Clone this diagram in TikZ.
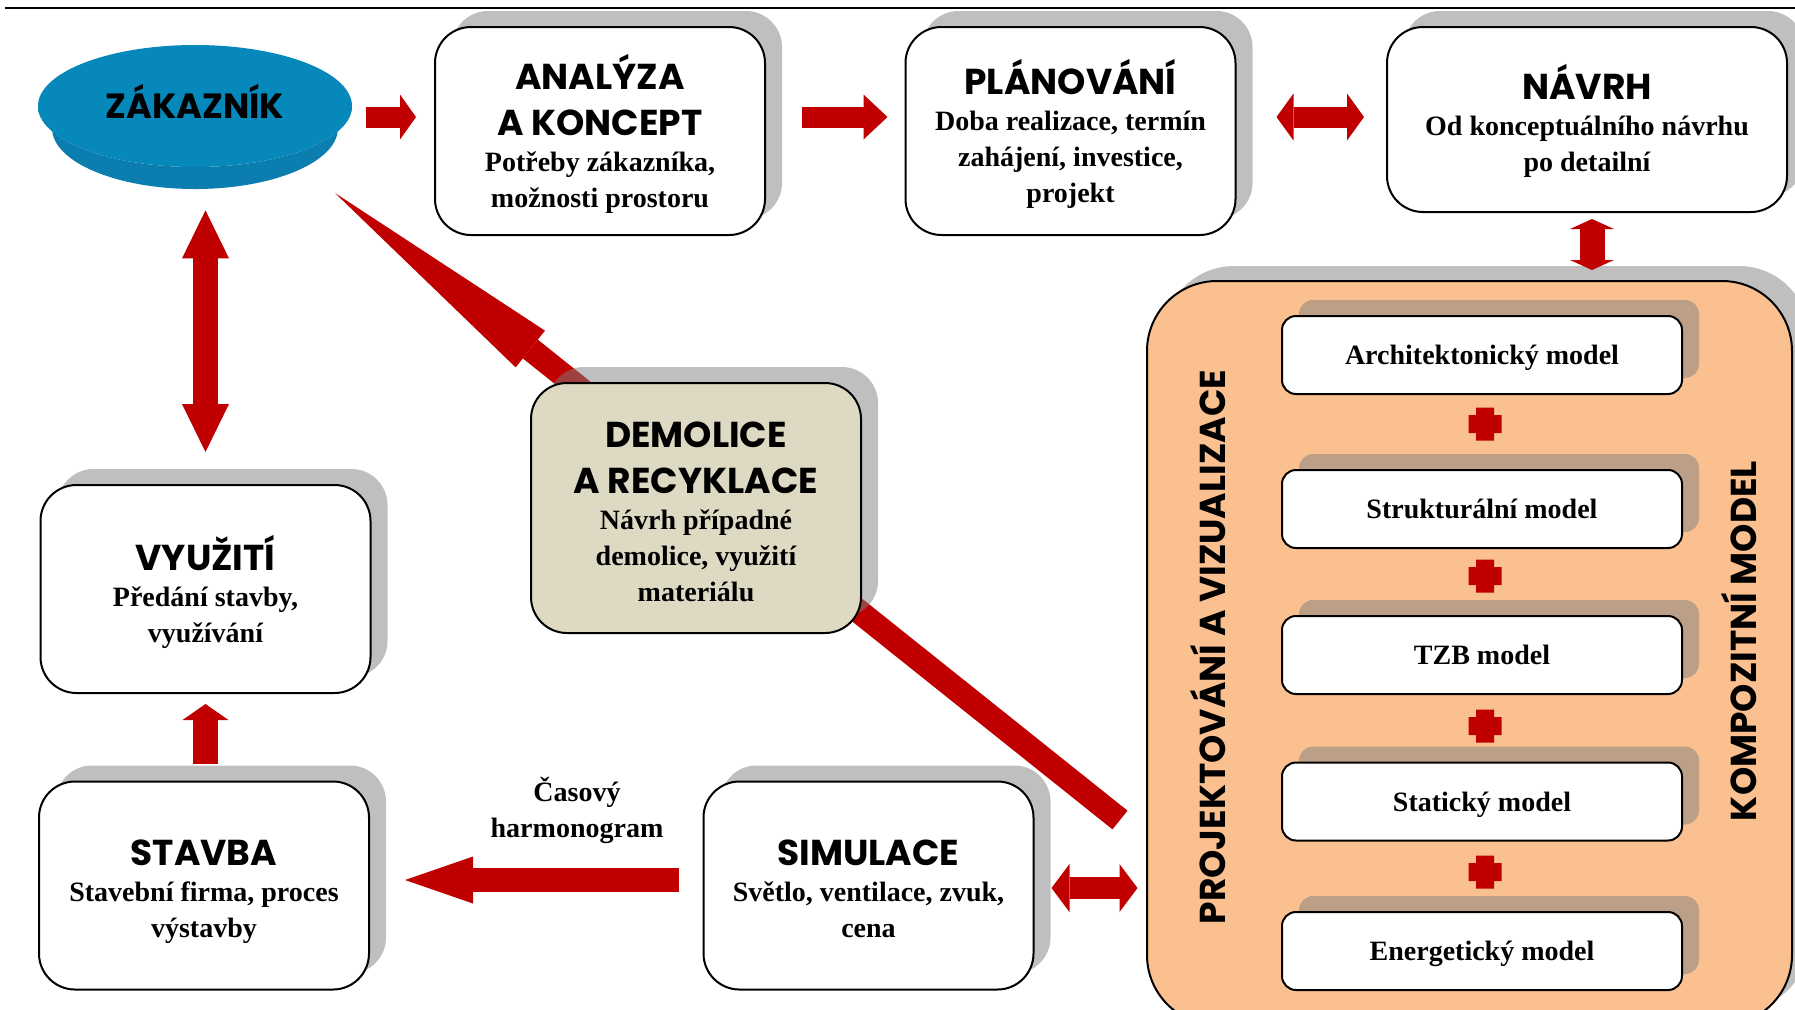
\documentclass[tikz,border=0pt]{standalone}
\usepackage{fontspec}
\setmainfont{Liberation Serif}
\newfontfamily\poppins{Poppins}
\usetikzlibrary{arrows.meta}
\usetikzlibrary{positioning}
\usetikzlibrary{shapes.geometric}
\usetikzlibrary{shadows}

\definecolor{arrowred}{HTML}{C00000}
\definecolor{diskblue}{HTML}{0788BB}
\definecolor{diskside}{HTML}{045F86}
\definecolor{diskedge}{HTML}{0B7DAE}
\definecolor{panelorange}{HTML}{FAC090}
\definecolor{demolbeige}{HTML}{DDD9C3}

\newcommand{\headfont}{\poppins\bfseries\fontsize{18}{23}\selectfont}
\newcommand{\bodyfont}{\rmfamily\bfseries\fontsize{14}{18}\selectfont}

\begin{document}
\begin{tikzpicture}[
        x=0.5pt,y=-0.5pt,
        arrow/.style={arrowred,line width=12pt},
        stage/.style={draw=black,line width=1pt,fill=white,rounded corners=18pt,
            align=center,inner sep=0pt,minimum width=165pt,minimum height=104pt,
            font=\bodyfont,text depth=0pt,
            drop shadow={shadow xshift=8.5pt,shadow yshift=8pt}},
        model/.style={stage,rounded corners=7pt,minimum width=200pt,
            minimum height=39pt},
        panel/.style={draw=black,line width=1pt,fill=panelorange,
            rounded corners=35pt,minimum width=322.5pt,minimum height=372pt,
            drop shadow={shadow xshift=8.5pt,shadow yshift=7.5pt}},
        vertical/.style={rotate=90,font=\poppins\bfseries\fontsize{18}{20}\selectfont},
    ]
        \useasboundingbox (0,0) rectangle (1795,1009);
        \clip (0,0) rectangle (1795,1009);

        % top rule
        \draw[line width=1.25pt] (5,8) -- (1795,8);

        % long arrow back to the customer
        \coordinate (demtail) at (1120,820);
        \coordinate (zaktip)  at (335,193);
        \draw[arrow,-{Triangle[width=23.5pt,length=125pt,line width=0pt]}]
            (demtail) -- (zaktip);

        % customer
        \shade[left color=diskedge,middle color=diskside,right color=diskedge]
            (38,106) -- (52,128)
            arc[start angle=180,end angle=360,x radius=71.5pt,y radius=30.5pt]
            -- (352,106)
            arc[start angle=0,end angle=-180,x radius=78.5pt,y radius=30.5pt]
            -- cycle;
        \node (zak) at (195,106) [ellipse,fill=diskblue,inner sep=0pt,
            minimum width=157pt,minimum height=61pt,text depth=5pt,
            font=\poppins\bfseries\fontsize{17.5}{20}\selectfont] {ZÁKAZNÍK};

        % top row
        \node (ana) at (600,131) [stage]
            {\headfont ANALÝZA\\[5pt]\headfont A KONCEPT\\
             Potřeby zákazníka,\\možnosti prostoru};
        \node (plan) at (1070.5,131) [stage]
            {\headfont PLÁNOVÁNÍ\\
             Doba realizace, termín\\zahájení, investice,\\projekt};
        \node (navrh) at (1587,119.5) [stage,minimum width=200pt,
            minimum height=92.5pt,text depth=1.3pt]
            {\headfont NÁVRH\\
             Od konceptuálního návrhu\\po detailní};

        % demolition
        \node (demol) at (696,508) [stage,fill=demolbeige,minimum height=125pt]
            {\headfont\rule{0pt}{16pt}DEMOLICE\\[5pt]\headfont A RECYKLACE\\
             Návrh případné\\demolice, využití\\materiálu};

        % left column
        \node (vyuz) at (205.5,589) [stage]
            {\headfont VYUŽITÍ\\
             Předání stavby,\\využívání};
        \node (stavba) at (204,885.5) [stage]
            {\headfont\rule{0pt}{16pt}STAVBA\\
             Stavební firma, proces\\výstavby};
        \node (sim) at (868.5,885.5) [stage]
            {\headfont\rule{0pt}{16pt}SIMULACE\\
             Světlo, ventilace, zvuk,\\cena};

        % composite model panel
        \node (panel) at (1469.5,653) [panel] {};
        \node (projlabel) at (1208,647) [vertical] {PROJEKTOVÁNÍ A VIZUALIZACE};
        \node (komplabel) at (1739,641) [vertical] {KOMPOZITNÍ MODEL};

        \node (arch)   at (1482,355)   [model] {Architektonický model};
        \node (strukt) at (1482,509)   [model] {Strukturální model};
        \node (tzb)    at (1482,655)   [model] {TZB model};
        \node (stat)   at (1482,801.5) [model] {Statický model};
        \node (energ)  at (1482,951)   [model] {Energetický model};

        \fill[arrowred] (1468.5,415) rectangle (1501.5,433)
            (1476,407.5) rectangle (1494,440.5);
        \fill[arrowred] (1468.5,567) rectangle (1501.5,585)
            (1476,559.5) rectangle (1494,592.5);
        \fill[arrowred] (1468.5,717) rectangle (1501.5,735)
            (1476,709.5) rectangle (1494,742.5);
        \fill[arrowred] (1468.5,863) rectangle (1501.5,881)
            (1476,855.5) rectangle (1494,888.5);

        % arrows
        \draw[arrow,line width=10.5pt,shorten <=7pt,shorten >=9pt,
            -{Triangle[width=22.5pt,length=8pt,line width=0pt]}]
            ([yshift=-5.5pt]zak.east) -- ([yshift=7pt]ana.west);
        \draw[arrow,line width=10.5pt,shorten <=18pt,shorten >=8.5pt,
            -{Triangle[width=22.5pt,length=12pt,line width=0pt]}]
            ([yshift=7pt]ana.east) -- ([yshift=7pt]plan.west);
        \draw[arrow,line width=10.5pt,shorten <=20pt,shorten >=11pt,
            {Triangle[width=23.5pt,length=8.5pt,line width=0pt]}-{Triangle[width=23.5pt,length=8.5pt,line width=0pt]}]
            ([yshift=7pt]plan.east) -- ([yshift=1.25pt]navrh.west);
        \draw[arrow,line width=12.5pt,shorten <=3pt,shorten >=6pt,
            {Triangle[width=22pt,length=5pt,line width=0pt]}-{Triangle[width=22pt,length=5pt,line width=0pt]}]
            ([xshift=2.5pt]navrh.south) -- ++(0,69);

        \draw[arrow,line width=12.5pt,shorten <=21.5pt,shorten >=16pt,
            {Triangle[width=23.5pt,length=24pt,line width=0pt]}-{Triangle[width=23.5pt,length=24pt,line width=0pt]}]
            (vyuz.north |- zak.south) -- (vyuz.north);
        \draw[arrow,line width=12.5pt,shorten <=8.5pt,shorten >=5pt,
            -{Triangle[width=23pt,length=8pt,line width=0pt]}]
            (vyuz.south |- stavba.north) -- (vyuz.south);

        \draw[arrow,shorten <=12pt,shorten >=17.5pt,
            -{Triangle[width=23.5pt,length=34pt,line width=0pt]}]
            ([yshift=2.75pt]sim.west) -- ([yshift=2.75pt]stavba.east);
        \node (harmlabel) at (577,810) [align=center,font=\bodyfont]
            {Časový\\harmonogram};

        \draw[arrow,line width=11pt,shorten <=8.5pt,shorten >=5pt,
            {Triangle[width=24pt,length=9pt,line width=0pt]}-{Triangle[width=24pt,length=9pt,line width=0pt]}]
            ([yshift=-1.25pt]sim.east) -- ++(113,0);
    \end{tikzpicture}
\end{document}
